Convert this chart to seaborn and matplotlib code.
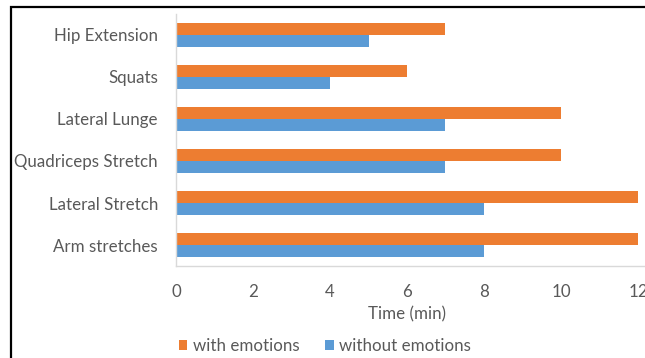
import matplotlib
matplotlib.use("Agg")
import matplotlib.pyplot as plt
from matplotlib.patches import Rectangle, Patch
import pandas as pd
import seaborn as sns

exercises = ["Hip Extension", "Squats", "Lateral Lunge", "Quadriceps Stretch",
             "Lateral Stretch", "Arm stretches"]
with_emotions = [7, 6, 10, 10, 12, 12]
without_emotions = [5, 4, 7, 7, 8, 8]
series = ["with emotions", "without emotions"]
x_ticks = [0, 2, 4, 6, 8, 10, 12]

df = pd.DataFrame({
    "exercise": exercises * 2,
    "time": with_emotions + without_emotions,
    "series": [series[0]] * len(exercises) + [series[1]] * len(exercises),
})

sns.set_style("white")
plt.rcParams["font.family"] = ["Lato", "DejaVu Sans"]

text_gray = "#595959"
colors = {series[0]: "#ED7D31", series[1]: "#5B9BD5"}
fs = 12.2

W, H = 645, 358
fig = plt.figure(figsize=(W / 100, H / 100), dpi=100)

# plot area in pixel terms: x=0 at 176px, 38.5px per minute
px_per_unit = 38.5
x0_px, top_px, bot_px = 176, 14, 266
xmax = 12.3
ax = fig.add_axes([x0_px / W, 1 - bot_px / H, xmax * px_per_unit / W, (bot_px - top_px) / H])

sns.barplot(data=df, y="exercise", x="time", hue="series", hue_order=series,
            order=exercises, palette=colors, saturation=1, orient="h", width=0.57,
            linewidth=0, ax=ax, legend=False)

ax.set_xlim(0, xmax)
ax.set_xticks(x_ticks)
ax.set_xticklabels([str(t) for t in x_ticks])
ax.set_ylabel("")
ax.set_xlabel("Time (min)", color=text_gray, fontsize=fs)
ax.xaxis.set_label_coords(6 / xmax, -0.158)
ax.tick_params(axis="y", length=0, pad=13, labelsize=fs, labelcolor=text_gray)
ax.tick_params(axis="x", length=0, pad=13, labelsize=fs, labelcolor=text_gray)
for side in ["top", "right"]:
    ax.spines[side].set_visible(False)
for side in ["left", "bottom"]:
    ax.spines[side].set_color("#D9D9D9")
    ax.spines[side].set_linewidth(1)
ax.grid(False)

handles = [Patch(facecolor=colors[s], edgecolor="none") for s in series]
fig.legend(handles, series, loc="center", bbox_to_anchor=(325 / W, 1 - 346 / H),
           ncol=2, frameon=False, fontsize=fs, labelcolor=text_gray,
           handlelength=0.5, handleheight=0.5, handletextpad=0.35,
           columnspacing=1.5, borderpad=0)

# outer chart frame
fig.add_artist(Rectangle((11 / W, -0.2), 1.2, 1.2 - 7 / H, transform=fig.transFigure,
                         fill=False, edgecolor="black", linewidth=1.6))

fig.savefig("out.png", dpi=100)
